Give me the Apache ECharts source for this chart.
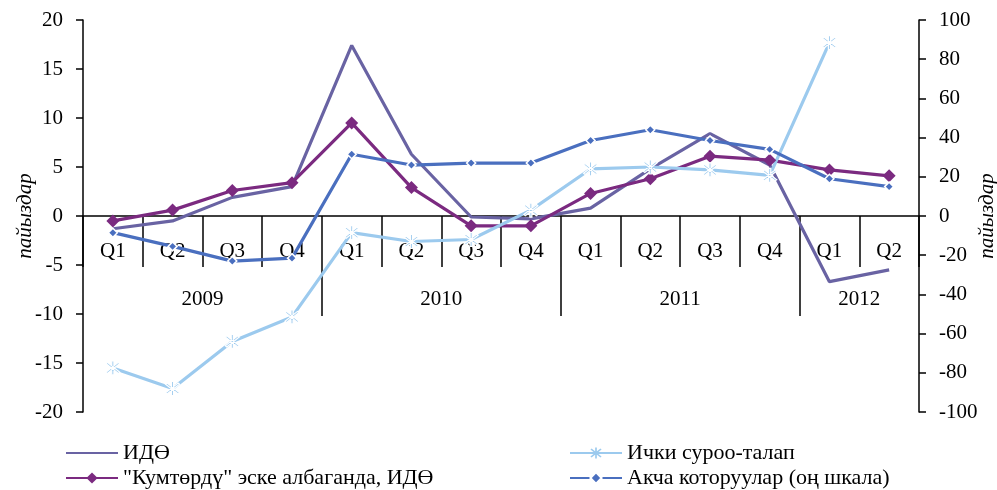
<!DOCTYPE html>
<html>
<head>
<meta charset="utf-8">
<script src="https://cdn.jsdelivr.net/npm/echarts@6/dist/echarts.min.js"></script>
<style>
  html, body { margin: 0; padding: 0; background: #fff; }
  #main { width: 997px; height: 490px; }
</style>
</head>
<body>
<div id="main"></div>
<script>
let myChart = echarts.init(document.getElementById('main'));

// quarters along the zero line, years underneath
const quarters = ['Q1', 'Q2', 'Q3', 'Q4', 'Q1', 'Q2', 'Q3', 'Q4', 'Q1', 'Q2', 'Q3', 'Q4', 'Q1', 'Q2'];
const yearLabels = ['', '', '2009', '', '', '', '2010', '', '', '', '2011', '', '', '2012', ''];
const yearBreaks = [4, 8, 12];

const leftTicks = { min: -20, max: 20, interval: 5 };
const rightTicks = { min: -100, max: 100, interval: 20 };

const gdp = [-1.3, -0.5, 1.9, 3.0, 17.4, 6.3, -0.1, -0.3, 0.8, 4.8, 8.4, 5.2, -6.7, -5.5];
const gdpExKumtor = [-0.5, 0.6, 2.6, 3.4, 9.5, 2.9, -1.0, -1.0, 2.3, 3.8, 6.1, 5.7, 4.7, 4.1];
const demand = [-15.5, -17.6, -12.8, -10.3, -1.7, -2.6, -2.4, 0.6, 4.8, 5.0, 4.7, 4.15, 17.7, null];
const remittances = [-8.5, -15.5, -23, -21.5, 31.5, 26, 27, 27, 38.5, 44, 38.5, 34, 19, 15];

const names = [
  'ИДӨ',
  '"Кумтөрдү" эске албаганда, ИДӨ',
  'Ички суроо-талап',
  'Акча которуулар (оң шкала)'
];

const font = 'Liberation Serif, DejaVu Serif, serif';
const axisColor = '#000';

// asterisk marker (vertical bar + X)
const asterisk = 'path://M-1.2,10 L1.2,10 L1.2,-10 L-1.2,-10 Z ' +
  'M6.22,7.92 L7.92,6.22 L-6.22,-7.92 L-7.92,-6.22 Z ' +
  'M7.92,-6.22 L6.22,-7.92 L-7.92,6.22 L-6.22,7.92 Z';

const gridBox = { left: 83, right: 78, top: 20, bottom: 78, outerBoundsMode: 'none', containLabel: false };
// move the category axes up from the grid bottom to the zero line
const zeroOffset = -196;

const legendText = { fontFamily: font, fontSize: 22, lineHeight: 22, color: '#000' };

let option = {
  animation: false,
  backgroundColor: '#fff',
  textStyle: { fontFamily: font },
  grid: [
    Object.assign({}, gridBox),
    Object.assign({}, gridBox)
  ],
  legend: [
    {
      orient: 'vertical',
      left: 65,
      top: 442,
      padding: 0,
      itemWidth: 52,
      itemHeight: 14,
      itemGap: 3,
      textStyle: legendText,
      data: [{ name: names[0], itemStyle: { opacity: 0 } }, names[1]]
    },
    {
      orient: 'vertical',
      left: 569,
      top: 442,
      padding: 0,
      itemWidth: 52,
      itemHeight: 14,
      itemGap: 3,
      textStyle: legendText,
      data: [{ name: names[2], itemStyle: { borderWidth: 0 } }, names[3]]
    }
  ],
  xAxis: [
    {
      type: 'category',
      gridIndex: 0,
      data: quarters,
      boundaryGap: true,
      offset: zeroOffset,
      axisLine: { onZero: false, lineStyle: { color: axisColor, width: 1.5 } },
      axisTick: { show: true, length: 51, lineStyle: { color: axisColor, width: 1.5 } },
      axisLabel: { interval: 0, margin: 25, color: '#000', fontFamily: font, fontSize: 21 },
      splitLine: { show: false }
    },
    {
      type: 'category',
      gridIndex: 1,
      data: yearLabels,
      boundaryGap: false,
      offset: zeroOffset,
      axisLine: { show: false, onZero: false },
      axisTick: {
        show: true,
        length: 100,
        interval: function (index) { return yearBreaks.indexOf(index) >= 0; },
        lineStyle: { color: axisColor, width: 1.5 }
      },
      axisLabel: { interval: 0, margin: 73, color: '#000', fontFamily: font, fontSize: 21 },
      splitLine: { show: false }
    }
  ],
  yAxis: [
    {
      type: 'value',
      gridIndex: 0,
      min: leftTicks.min,
      max: leftTicks.max,
      interval: leftTicks.interval,
      name: 'пайыздар',
      nameLocation: 'middle',
      nameGap: 47,
      nameMoveOverlap: false,
      nameTextStyle: { fontFamily: font, fontSize: 21, fontStyle: 'italic', color: '#000' },
      axisLine: { show: true, lineStyle: { color: axisColor, width: 1.5 } },
      axisTick: { show: true, length: 7, lineStyle: { color: axisColor, width: 1.5 } },
      axisLabel: { margin: 20, color: '#000', fontFamily: font, fontSize: 21 },
      splitLine: { show: false }
    },
    {
      type: 'value',
      gridIndex: 0,
      position: 'right',
      min: rightTicks.min,
      max: rightTicks.max,
      interval: rightTicks.interval,
      name: 'пайыздар',
      nameLocation: 'middle',
      nameGap: 58,
      nameRotate: 90,
      nameMoveOverlap: false,
      nameTextStyle: { fontFamily: font, fontSize: 21, fontStyle: 'italic', color: '#000' },
      axisLine: { show: true, lineStyle: { color: axisColor, width: 1.5 } },
      axisTick: { show: true, length: 7, lineStyle: { color: axisColor, width: 1.5 } },
      axisLabel: { margin: 20, color: '#000', fontFamily: font, fontSize: 21 },
      splitLine: { show: false }
    },
    {
      type: 'value',
      gridIndex: 1,
      min: leftTicks.min,
      max: leftTicks.max,
      show: false
    }
  ],
  series: [
    {
      name: names[0],
      type: 'line',
      xAxisIndex: 0,
      yAxisIndex: 0,
      data: gdp,
      symbol: 'none',
      lineStyle: { color: '#6963a3', width: 3.2 },
      itemStyle: { color: '#6963a3' }
    },
    {
      name: names[1],
      type: 'line',
      xAxisIndex: 0,
      yAxisIndex: 0,
      data: gdpExKumtor,
      symbol: 'diamond',
      symbolSize: 13,
      lineStyle: { color: '#7b2a80', width: 3.2 },
      itemStyle: { color: '#7b2a80' }
    },
    {
      name: names[2],
      type: 'line',
      xAxisIndex: 0,
      yAxisIndex: 0,
      data: demand,
      symbol: asterisk,
      symbolSize: 14,
      lineStyle: { color: '#9ccaee', width: 3.2 },
      itemStyle: { color: '#9ccaee', borderColor: '#fff', borderWidth: 1.2 }
    },
    {
      name: names[3],
      type: 'line',
      xAxisIndex: 0,
      yAxisIndex: 1,
      data: remittances,
      symbol: 'diamond',
      symbolSize: 9,
      lineStyle: { color: '#4a6fbf', width: 3.2 },
      itemStyle: { color: '#4a6fbf', borderColor: '#fff', borderWidth: 1.5 }
    }
  ]
};

myChart.setOption(option);
</script>
</body>
</html>
